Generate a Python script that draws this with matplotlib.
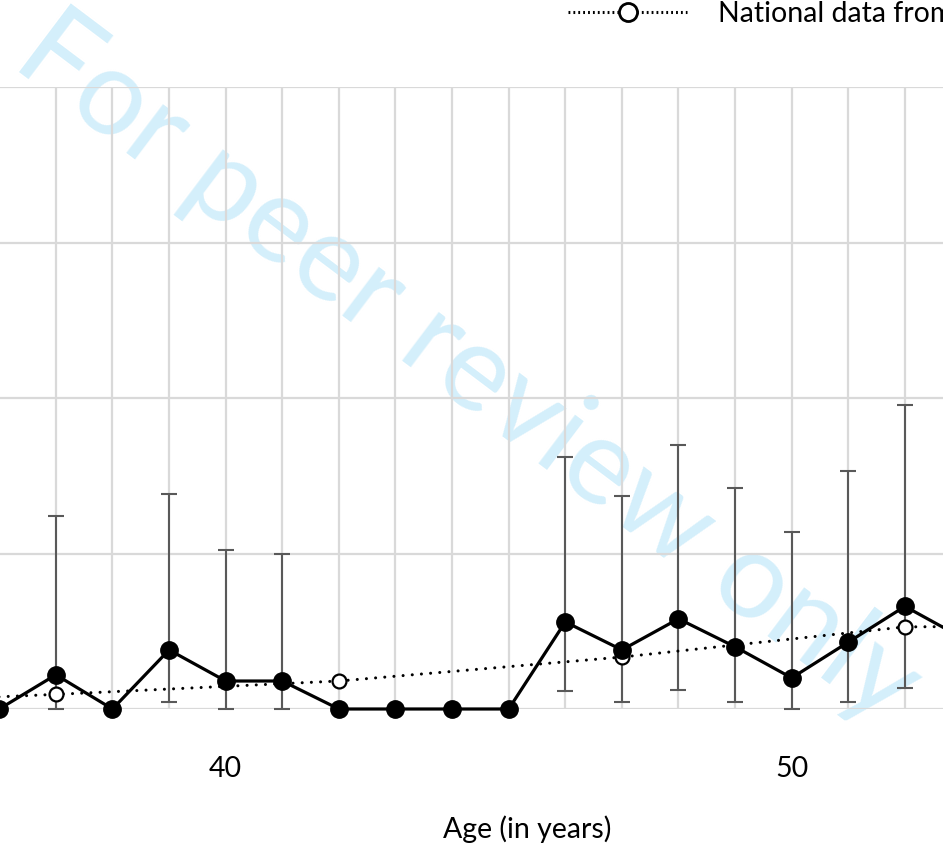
import numpy as np
import matplotlib.pyplot as plt
from matplotlib.lines import Line2D

# study data (mean with confidence limits)
ages = [36, 37, 38, 39, 40, 41, 42, 43, 44, 45, 46, 47, 48, 49, 50, 51, 52, 53]
rate = [0.0, 0.11, 0.0, 0.19, 0.09, 0.09, 0.0, 0.0, 0.0, 0.0,
        0.28, 0.19, 0.29, 0.20, 0.10, 0.215, 0.33, 0.23]

# error bars only where drawn
err_ages = [37, 39, 40, 41, 46, 47, 48, 49, 50, 51, 52]
err_mid = [0.11, 0.19, 0.09, 0.09, 0.28, 0.19, 0.29, 0.20, 0.10, 0.215, 0.33]
err_lo = [0.0, 0.022, 0.0, 0.0, 0.058, 0.022, 0.061, 0.022, 0.0, 0.022, 0.068]
err_hi = [0.62, 0.69, 0.51, 0.50, 0.81, 0.685, 0.85, 0.71, 0.57, 0.765, 0.977]

# national reference data (5-year steps)
nat_ages = [32, 37, 42, 47, 52, 57]
nat_rate = [0.008, 0.047, 0.09, 0.167, 0.264, 0.27]

plt.rcParams['font.family'] = ['Lato', 'DejaVu Sans']
FS = 20.5

fig = plt.figure(figsize=(9.43, 8.44), dpi=100)
ax = fig.add_axes([0, 1 - 709 / 844, 1, (709 - 87) / 844])
ax.set_facecolor('none')

ax.set_xticks(range(32, 58))
ax.set_xticklabels([str(a) if a % 10 == 0 else '' for a in range(32, 58)], fontsize=FS)
ax.set_yticks([0, 0.5, 1.0, 1.5, 2.0])
ax.set_yticklabels([])
ax.set_xlim(36.013, 52.673)
ax.set_ylim(0, 2.0)
ax.tick_params(length=0, pad=34)
ax.grid(True, color='#d9d9d9', linewidth=1.6)
ax.set_axisbelow(True)
for s in ax.spines.values():
    s.set_visible(False)
ax.set_xlabel('Age (in years)', fontsize=FS)
ax.xaxis.set_label_coords(527 / 943, -0.171)

# watermark
ax.text(0.497, 0.563, 'For peer review only', transform=fig.transFigure,
        rotation=-37, rotation_mode='anchor', ha='center', va='center',
        fontsize=87, color='#d4effb', zorder=0.5)

yerr = [np.array(err_mid) - np.array(err_lo), np.array(err_hi) - np.array(err_mid)]
ax.errorbar(err_ages, err_mid, yerr=yerr, fmt='none', ecolor='#595959',
            elinewidth=1.5, capsize=6, capthick=1.5, zorder=2, clip_on=False)

ax.plot(nat_ages, nat_rate, color='black', linewidth=2.2, dashes=(0.01, 3),
        dash_capstyle='round', marker='o', markersize=10, markerfacecolor='white',
        markeredgecolor='black', markeredgewidth=1.6, zorder=3, clip_on=False)

ax.plot(ages, rate, color='black', linewidth=2.3, marker='o', markersize=12.5,
        markerfacecolor='black', zorder=4, clip_on=False)

handle = Line2D([], [], color='black', linewidth=2.2, dashes=(0.6, 1),
                marker='o', markersize=13, markerfacecolor='white',
                markeredgecolor='black', markeredgewidth=2)
fig.legend([handle], ['National data from'], loc='center left',
           bbox_to_anchor=(568 / 943, 1 - 14 / 844), frameon=False,
           borderpad=0, borderaxespad=0, handlelength=4.18, handletextpad=1.1,
           fontsize=FS)

fig.savefig('out.png', dpi=100)
